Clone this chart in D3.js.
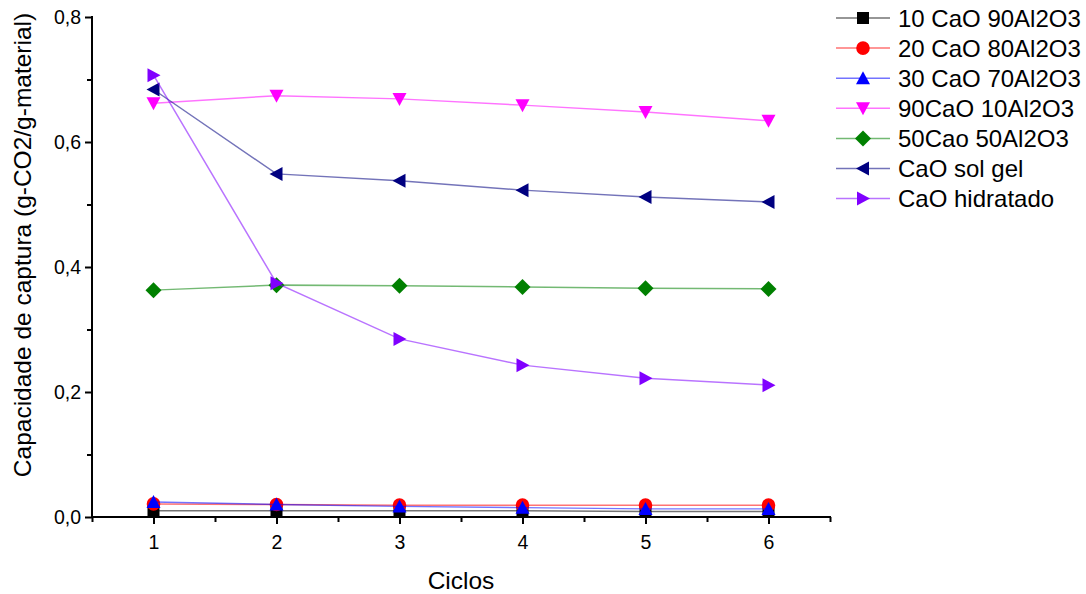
<!DOCTYPE html>
<html>
<head>
<meta charset="utf-8">
<script src="https://cdn.jsdelivr.net/npm/d3@7"></script>
<style>
  html, body { margin: 0; padding: 0; background: #fff; }
  svg { display: block; font-family: Arial, "Liberation Sans", sans-serif; }
</style>
</head>
<body>
<svg id="chart" width="1086" height="594"></svg>
<script>
// ---- data ----
const ciclos = [1, 2, 3, 4, 5, 6];
const seriesNames = ["10 CaO 90Al2O3", "20 CaO 80Al2O3", "30 CaO 70Al2O3", "90CaO 10Al2O3", "50Cao 50Al2O3", "CaO sol gel", "CaO hidratado"];
const s10CaO = [0.010, 0.010, 0.010, 0.010, 0.009, 0.009];
const s20CaO = [0.021, 0.020, 0.019, 0.019, 0.019, 0.019];
const s30CaO = [0.024, 0.020, 0.017, 0.015, 0.013, 0.013];
const s90CaO = [0.662, 0.674, 0.669, 0.659, 0.648, 0.634];
const s50CaO = [0.363, 0.371, 0.370, 0.368, 0.366, 0.365];
const sSolGel = [0.684, 0.549, 0.538, 0.523, 0.512, 0.504];
const sHidratado = [0.707, 0.374, 0.285, 0.243, 0.222, 0.211];
const yTickValues = [0, 0.2, 0.4, 0.6, 0.8];
const yTickLabels = ["0,0", "0,2", "0,4", "0,6", "0,8"];
const xTickLabels = ["1", "2", "3", "4", "5", "6"];
const xTitle = "Ciclos";
const yTitle = "Capacidade de captura (g-CO2/g-material)";

// ---- styles ----
const colors = ["#000000", "#ff0000", "#0000ff", "#ff00ff", "#008000", "#000080", "#8000ff"];
const shapes = ["square", "circle", "triangleUp", "triangleDown", "diamond", "triangleLeft", "triangleRight"];
const allValues = [s10CaO, s20CaO, s30CaO, s90CaO, s50CaO, sSolGel, sHidratado];

const svg = d3.select("#chart");
const pLeft = 92, pRight = 830, pTop = 17, pBottom = 517;

const x = d3.scaleLinear().domain([0.5, 6.5]).range([pLeft, pRight]);
const y = d3.scaleLinear().domain([0, 0.8]).range([pBottom, pTop]);

function markerPath(shape, s) {
  switch (shape) {
    case "square": return `M${-s},${-s}H${s}V${s}H${-s}Z`;
    case "circle": return d3.arc()({innerRadius: 0, outerRadius: s + 0.8, startAngle: 0, endAngle: 2 * Math.PI});
    case "triangleUp": return `M0,${-s - 1}L${s + 1},${s}L${-s - 1},${s}Z`;
    case "triangleDown": return `M0,${s + 1}L${s + 1},${-s}L${-s - 1},${-s}Z`;
    case "diamond": return `M0,${-s - 2}L${s + 2},0L0,${s + 2}L${-s - 2},0Z`;
    case "triangleLeft": return `M${-s - 1},0L${s},${-s - 1}L${s},${s + 1}Z`;
    case "triangleRight": return `M${s + 1},0L${-s},${-s - 1}L${-s},${s + 1}Z`;
  }
}
const mSize = 6;

// ---- axes ----
const axisG = svg.append("g");
const xAxis = d3.axisBottom(x).tickValues(ciclos).tickFormat((d, i) => xTickLabels[i]).tickSize(7).tickPadding(11);
const xg = axisG.append("g").attr("transform", `translate(0,${pBottom})`).call(xAxis);
xg.select(".domain").remove();
xg.selectAll("line").attr("stroke", "#000").attr("stroke-width", 2);
xg.selectAll("text").attr("font-size", 19.5).attr("fill", "#000");
const xMinor = d3.axisBottom(x).tickValues(d3.range(0.5, 6.51, 1)).tickFormat("").tickSize(5);
const xmg = axisG.append("g").attr("transform", `translate(0,${pBottom})`).call(xMinor);
xmg.select(".domain").remove();
xmg.selectAll("line").attr("stroke", "#000").attr("stroke-width", 2);
axisG.append("line").attr("x1", pLeft - 1).attr("x2", pRight + 1).attr("y1", pBottom).attr("y2", pBottom)
  .attr("stroke", "#000").attr("stroke-width", 2);

const yAxis = d3.axisLeft(y).tickValues(yTickValues).tickFormat((d, i) => yTickLabels[i]).tickSize(7).tickPadding(4);
const yg = axisG.append("g").attr("transform", `translate(${pLeft},0)`).call(yAxis);
yg.select(".domain").remove();
yg.selectAll("line").attr("stroke", "#000").attr("stroke-width", 2);
yg.selectAll("text").attr("font-size", 19.5).attr("fill", "#000");
const yMinor = d3.axisLeft(y).tickValues([0.1, 0.3, 0.5, 0.7]).tickFormat("").tickSize(5);
const ymg = axisG.append("g").attr("transform", `translate(${pLeft},0)`).call(yMinor);
ymg.select(".domain").remove();
ymg.selectAll("line").attr("stroke", "#000").attr("stroke-width", 2);
axisG.append("line").attr("x1", pLeft).attr("x2", pLeft).attr("y1", pTop - 1).attr("y2", pBottom + 1)
  .attr("stroke", "#000").attr("stroke-width", 2);

// titles
svg.append("text").attr("x", 461).attr("y", 589).attr("text-anchor", "middle")
  .attr("font-size", 24.5).attr("fill", "#000").text(xTitle);
svg.append("text").attr("transform", "translate(31,245) rotate(-90)").attr("text-anchor", "middle")
  .attr("font-size", 24.5).attr("fill", "#000").text(yTitle);

// ---- series ----
const line = d3.line().x((d, i) => x(ciclos[i])).y(d => y(d));
const plot = svg.append("g");
allValues.forEach((vals, k) => {
  const g = plot.append("g");
  g.append("path").attr("d", line(vals)).attr("fill", "none")
    .attr("stroke", colors[k]).attr("stroke-opacity", 0.55).attr("stroke-width", 1.5);
  g.selectAll("path.m").data(vals).enter().append("path").attr("class", "m")
    .attr("d", markerPath(shapes[k], mSize))
    .attr("transform", (d, i) => `translate(${x(ciclos[i])},${y(d)})`)
    .attr("fill", colors[k]);
});

// ---- legend ----
const legend = svg.append("g");
seriesNames.forEach((name, k) => {
  const ly = 18 + k * 30.1;
  legend.append("line").attr("x1", 836).attr("x2", 890).attr("y1", ly).attr("y2", ly)
    .attr("stroke", colors[k]).attr("stroke-opacity", 0.55).attr("stroke-width", 1.5);
  legend.append("path").attr("d", markerPath(shapes[k], mSize)).attr("transform", `translate(863,${ly})`)
    .attr("fill", colors[k]);
  legend.append("text").attr("x", 898).attr("y", ly).attr("dy", "0.36em")
    .attr("font-size", 24).attr("fill", "#000").text(name);
});
</script>
</body>
</html>
